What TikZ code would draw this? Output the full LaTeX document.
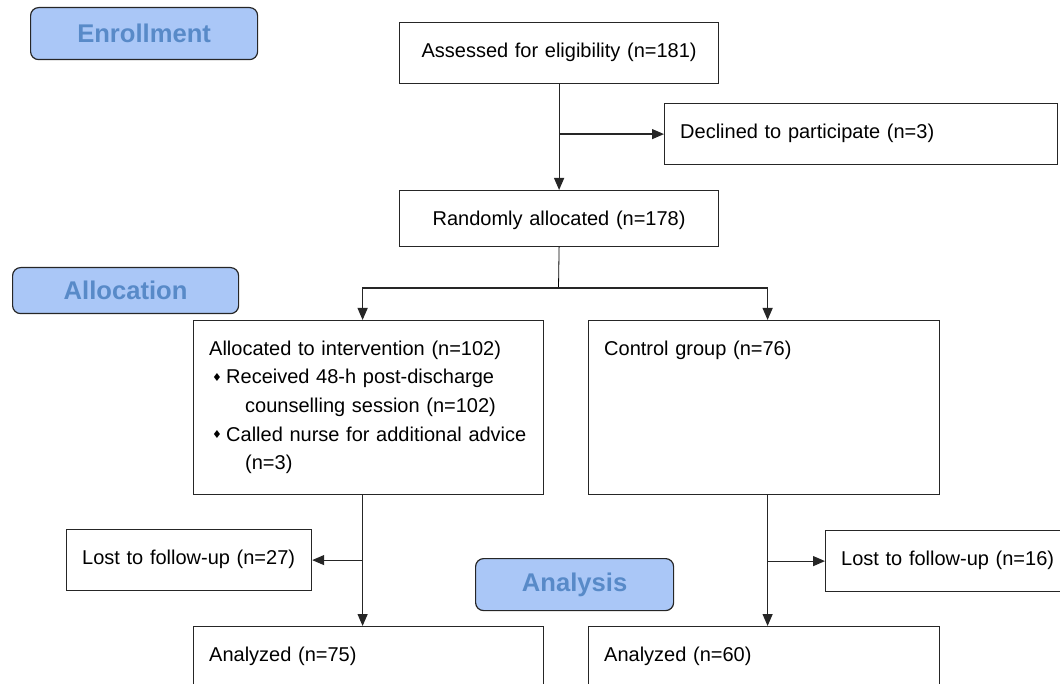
\documentclass[tikz,border=0pt]{standalone}
\usepackage{fontspec}
\setmainfont{Liberation Sans}
\newfontfamily\symfont{DejaVu Sans}
\usetikzlibrary{arrows.meta}
\definecolor{phasefill}{RGB}{170,199,247}
\definecolor{phasetext}{RGB}{88,138,200}
\newcommand{\dia}{\raisebox{1.2pt}{\symfont\fontsize{5.5}{6}\selectfont ♦}}

\begin{document}
\begin{tikzpicture}[x=0.5pt, y=-0.5pt,
  box/.style={draw=black!85, line width=0.6pt, anchor=north west, inner xsep=7.8pt,
    inner ysep=0pt, text height=17.3pt, align=left, font=\fontsize{10}{14.3}\selectfont},
  phase/.style={draw=black!85, line width=0.6pt, fill=phasefill, rounded corners=4pt,
    anchor=north west, inner sep=0pt, text=phasetext, font=\fontsize{12.8}{15}\selectfont\bfseries},
  ->/.style={-{Triangle[length=6pt, width=5pt]}, line width=0.6pt, draw=black!85}]
  \useasboundingbox (0,0) rectangle (1060,684);
  \clip (0,0) rectangle (1060,684);
  % phase labels
  \node[phase, minimum width=113.5pt, minimum height=26pt] (enroll) at (30,7) {Enrollment};
  \node[phase, minimum width=113pt, minimum height=23pt] (alloc) at (12,267) {Allocation};
  \node[phase, minimum width=99pt, minimum height=26pt] (analysis) at (475,558) {Analysis};
  % boxes
  \node[box, align=center, text width=143.9pt, text depth=13.2pt] (assess) at (399,22) {Assessed for eligibility (n=181)};
  \node[box, text width=180.9pt, text depth=13.2pt] (declined) at (664,103) {Declined to participate (n=3)};
  \node[box, align=center, text width=143.9pt, text depth=10.7pt] (random) at (399,190) {Randomly allocated (n=178)};
  \node[box, text width=159.4pt, text depth=69.7pt] (interv) at (193,320) {Allocated to intervention (n=102)\\
    \makebox[8.5pt][l]{\hspace{1.5pt}\dia}Received 48-h post-discharge\\
    \hspace*{18pt}counselling session (n=102)\\
    \makebox[8.5pt][l]{\hspace{1.5pt}\dia}Called nurse for additional advice\\
    \hspace*{18pt}(n=3)};
  \node[box, text width=159.9pt, text depth=69.7pt] (control) at (588,320) {Control group (n=76)};
  \node[box, text width=106.9pt, text depth=13.2pt] (lostA) at (66,529) {Lost to follow-up (n=27)};
  \node[box, text width=110pt, text depth=13.2pt] (lostB) at (825,530) {Lost to follow-up (n=16)};
  \node[box, text width=159.4pt, text depth=32.7pt] (analA) at (193,626) {Analyzed (n=75)};
  \node[box, text width=159.9pt, text depth=32.7pt] (analB) at (588,626) {Analyzed (n=60)};
  % connectors
  \coordinate (dec) at (assess.south |- declined.west);
  \coordinate (split) at (558.5,288);
  \coordinate (ll) at ([xshift=-3pt]interv.south |- lostA.east);
  \coordinate (lr) at ([xshift=1.75pt]control.south |- lostB.west);
  \draw[->] (assess.south) -- (random.north);
  \draw[->] (dec) -- (declined.west);
  \draw (random.south) -- (split);
  \draw[->] (split) -| ([xshift=-3pt]interv.north);
  \draw[->] (split) -| ([xshift=1.75pt]control.north);
  \draw[->] ([xshift=-3pt]interv.south) -- ([xshift=-3pt]analA.north);
  \draw[->] ([xshift=1.75pt]control.south) -- ([xshift=1.75pt]analB.north);
  \draw[->] (ll) -- (lostA.east);
  \draw[->] (lr) -- (lostB.west);
\end{tikzpicture}
\end{document}
